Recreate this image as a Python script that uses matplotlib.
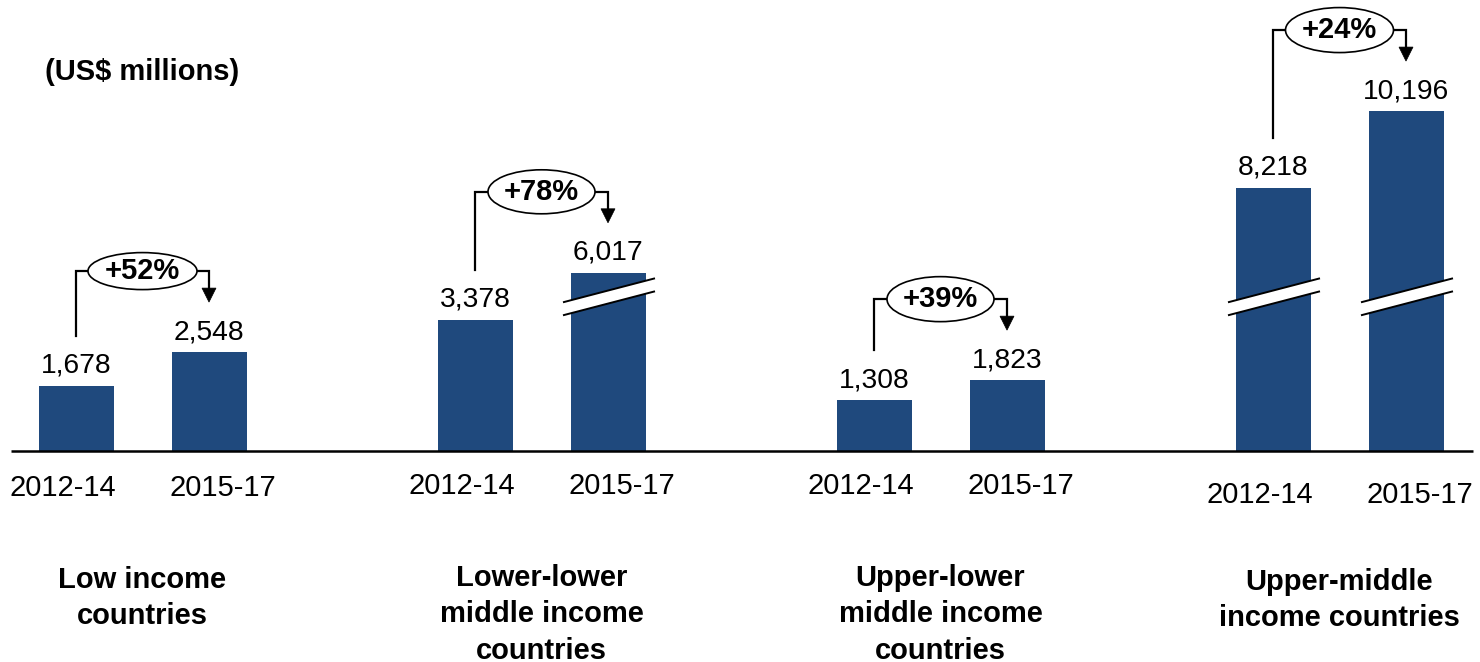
import matplotlib
matplotlib.use('Agg')
import matplotlib.pyplot as plt
from matplotlib.patches import Ellipse, Polygon

plt.rcParams['font.family'] = ['Liberation Sans', 'DejaVu Sans']

# ---- data ----
groups = ['Low income\ncountries',
          'Lower-lower\nmiddle income\ncountries',
          'Upper-lower\nmiddle income\ncountries',
          'Upper-middle\nincome countries']
periods = ['2012-14', '2015-17']
values_2012_14 = [1678, 3378, 1308, 8218]
values_2015_17 = [2548, 6017, 1823, 10196]
growth_labels = ['+52%', '+78%', '+39%', '+24%']
unit_label = '(US$ millions)'

# ---- style / layout ----
BAR_COLOR = '#1f497d'
W, H = 1480, 662
BASE_PX = 450.7          # baseline position (px from top)
UPP = 25.84              # data units per pixel
BREAK_LEVEL = 3970       # display height where the axis break is drawn
BREAK_GAP = 1420         # amount removed by the axis break


def shown(v):
    return v - BREAK_GAP if v > BREAK_LEVEL else v


def py(y_px):
    """pixel-from-top -> data y"""
    return (BASE_PX - y_px) * UPP


fig = plt.figure(figsize=(W / 100, H / 100), dpi=100)
ax = fig.add_axes([0, 0, 1, 1])
ax.set_xlim(0, W)
ax.set_ylim(py(H), py(0))
ax.axis('off')

group_centers = [142.5 + 399 * i for i in range(len(groups))]
offset = 66.5
bar_w = 75
tick_base_px = [496, 494, 494, 502.5]
label_top_px = [566, 564, 564, 568]
ellipse_h_px = [37, 44, 45, 45]
ellipse_w_px = [109, 107, 107, 108]

for i, gc in enumerate(group_centers):
    x1, x2 = gc - offset, gc + offset
    v1, v2 = values_2012_14[i], values_2015_17[i]
    h1, h2 = shown(v1), shown(v2)
    ax.bar([x1, x2], [h1, h2], width=bar_w, color=BAR_COLOR, zorder=2)

    # value labels
    for x, v, h in ((x1, v1, h1), (x2, v2, h2)):
        ax.annotate(f'{v:,}', (x, h), xytext=(0, 13 * 0.72), textcoords='offset points',
                    ha='center', va='baseline', fontsize=20.3, color='black')
        if v > BREAK_LEVEL:
            dxs = [-45, 47]
            slope = 24 / 92
            top = [BREAK_LEVEL + (dx * slope + 6.5) * UPP for dx in dxs]
            bot = [BREAK_LEVEL + (dx * slope - 6.5) * UPP for dx in dxs]
            xs = [x + dx for dx in dxs]
            ax.add_patch(Polygon([(xs[0], bot[0]), (xs[1], bot[1]), (xs[1], top[1]), (xs[0], top[0])],
                                 closed=True, facecolor='white', edgecolor='none', zorder=3))
            ax.plot(xs, top, color='black', lw=1.4, zorder=4, solid_capstyle='butt')
            ax.plot(xs, bot, color='black', lw=1.4, zorder=4, solid_capstyle='butt')

    # period tick labels
    ax.text(x1 - 13, py(tick_base_px[i]), periods[0], ha='center', va='baseline', fontsize=21)
    ax.text(x2 + 14, py(tick_base_px[i]), periods[1], ha='center', va='baseline', fontsize=21)

    # group label
    ax.text(gc, py(label_top_px[i]), groups[i], ha='center', va='top', fontsize=21,
            fontweight='bold', linespacing=1.38)

    # growth bracket
    y_br = max(h1, h2) + 81 * UPP
    y_start = h1 + 50 * UPP
    y_tip = h2 + 50 * UPP
    ew = ellipse_w_px[i]
    ax.plot([x1, x1, gc - ew / 2], [y_start, y_br, y_br], color='black', lw=1.6, zorder=4,
            solid_joinstyle='miter')
    ax.plot([gc + ew / 2, x2, x2], [y_br, y_br, y_tip + 12 * UPP], color='black', lw=1.6, zorder=4,
            solid_joinstyle='miter')
    ax.add_patch(Polygon([(x2 - 7, y_tip + 14 * UPP), (x2 + 7, y_tip + 14 * UPP), (x2, y_tip)],
                         closed=True, facecolor='black', edgecolor='black', lw=0.5, zorder=4))
    ax.add_patch(Ellipse((gc, y_br), width=ew, height=ellipse_h_px[i] * UPP,
                         facecolor='white', edgecolor='black', lw=1.2, zorder=5))
    ax.text(gc, y_br, growth_labels[i], ha='center', va='center', fontsize=21,
            fontweight='bold', zorder=6)

# baseline
ax.plot([11, 1473], [0, 0], color='black', lw=1.8, zorder=5, solid_capstyle='butt')

# unit label
ax.text(45, py(80), unit_label, ha='left', va='baseline', fontsize=21, fontweight='bold')

fig.savefig('out.png', dpi=100)
